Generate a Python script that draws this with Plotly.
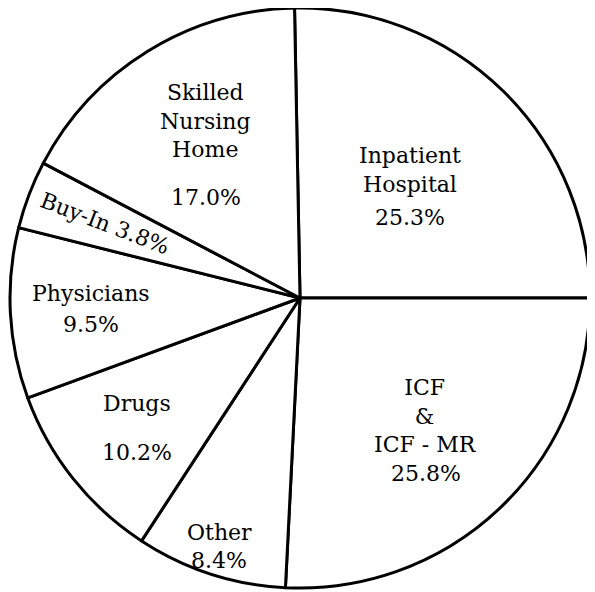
import math
import plotly.graph_objects as go

# ---- data ----
labels = ["Inpatient Hospital", "ICF & ICF - MR", "Other", "Drugs",
          "Physicians", "Buy-In", "Skilled Nursing Home"]
label_lines = [["Inpatient", "Hospital"], ["ICF", "&", "ICF - MR"], ["Other"],
               ["Drugs"], ["Physicians"], ["Buy-In"], ["Skilled", "Nursing", "Home"]]
values = [25.3, 25.8, 8.4, 10.2, 9.5, 3.8, 17.0]

# ---- style ----
FONT = "DejaVu Serif"
FS = 22
LINE = FS * 1.3
r_frac = [0.54, 0.63, 0.90, 0.72, 0.72, 0.72, 0.62]
gaps = [5, 0, 0, 21, 3, 0, 19]

total = sum(values)
# first slice (Inpatient Hospital) ends at 3 o'clock
rotation = 90 - 360 * values[0] / total

fig = go.Figure(go.Pie(
    labels=labels, values=values, sort=False, direction="clockwise",
    rotation=rotation, textinfo="none", hoverinfo="none",
    marker=dict(colors=["white"] * len(values), line=dict(color="black", width=3)),
    domain=dict(x=[0, 1], y=[0, 1]), showlegend=False,
))

annotations = []
cum = 0.0
for i, v in enumerate(values):
    mid = rotation + 360 * (cum + v / 2) / total
    cum += v
    a = math.radians(mid)
    x = 0.5 + 0.5 * r_frac[i] * math.sin(a)
    y = 0.5 + 0.5 * r_frac[i] * math.cos(a)
    pct = f"{v:.1f}%"
    font = dict(family=FONT, size=FS, color="black")
    if labels[i] == "Buy-In":
        annotations.append(dict(x=x, y=y, xref="paper", yref="paper",
                                text=f"{label_lines[i][0]} {pct}", showarrow=False,
                                textangle=mid - 270, font=font,
                                xanchor="center", yanchor="middle"))
        continue
    n = len(label_lines[i])
    H = (n + 1) * LINE + gaps[i]
    annotations.append(dict(x=x, y=y, xref="paper", yref="paper",
                            text="<br>".join(label_lines[i]), showarrow=False,
                            font=font, xanchor="center", yanchor="top", yshift=H / 2))
    annotations.append(dict(x=x, y=y, xref="paper", yref="paper",
                            text=pct, showarrow=False,
                            font=font, xanchor="center", yanchor="bottom", yshift=-H / 2))

fig.update_layout(
    width=587, height=584,
    margin=dict(l=2, r=5, t=0, b=4),
    paper_bgcolor="white", plot_bgcolor="white",
    annotations=annotations,
)
fig.write_html("out.html")
